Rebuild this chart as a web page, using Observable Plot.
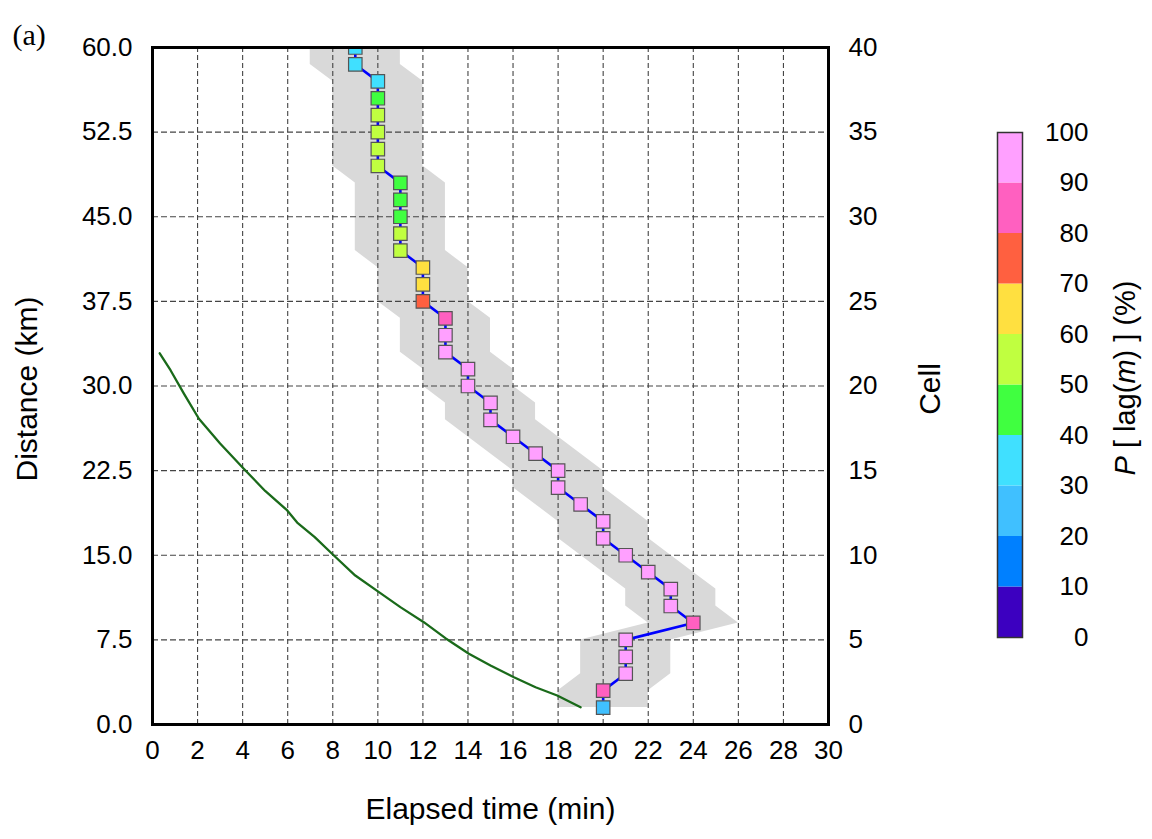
<!DOCTYPE html>
<html><head><meta charset="utf-8">
<script src="https://cdn.jsdelivr.net/npm/d3@7"></script>
<script src="https://cdn.jsdelivr.net/npm/@observablehq/plot@0.6"></script>
<style>
body{margin:0;background:#fff;}
#wrap{position:relative;width:1152px;height:839px;font-family:"Liberation Sans",Arial,sans-serif;}
#main{position:absolute;left:0;top:0;}
#cbar{position:absolute;left:960px;top:100px;}
</style></head><body><div id="wrap"><div id="main"></div><div id="cbar"></div></div>
<script>
// ---- data ----
const cells  = [1,2,3,4,5,6,7,8,9,10,11,12,13,14,15,16,17,18,19,20,21,22,23,24,25,26,27,28,29,30,31,32,33,34,35,36,37,38,39,40];
const times  = [20,20,21,21,21,24,23,23,22,21,20,20,19,18,18,17,16,15,15,14,14,13,13,13,12,12,12,11,11,11,11,11,10,10,10,10,10,10,9,9];
const probs  = [25,85,95,95,95,85,95,95,95,95,95,95,95,95,95,95,95,95,95,95,95,95,95,85,75,65,65,55,55,45,45,45,55,55,55,55,45,35,35,35];
const bandLo = [18,18,19,19,19,22,21,21,20,19,18,18,17,16,16,15,14,13,13,12,12,11,11,11,10,10,10,9,9,9,9,9,8,8,8,8,8,8,7,7];
const bandHi = [22,22,23,23,23,26,25,25,24,23,22,22,21,20,20,19,18,17,17,16,16,15,15,15,14,14,14,13,13,13,13,13,12,12,12,12,12,12,11,11];
const greenT  = [0.32,0.8,1.4,2.06,3.0,4.05,5.0,5.98,6.42,7.2,8.05,9.0,10.05,11.0,12.04,13.0,14.04,15.0,16.04,17.0,17.96,19.0];
const greenKm = [32.9,31.4,29.3,27.1,24.9,22.66,20.7,18.97,17.9,16.6,14.98,13.2,11.73,10.4,9.07,7.65,6.27,5.23,4.19,3.3,2.57,1.53];
const xTicks = [0,2,4,6,8,10,12,14,16,18,20,22,24,26,28,30];
const kmTicks = [0,7.5,15,22.5,30,37.5,45,52.5,60];
const cellTicks = [0,5,10,15,20,25,30,35,40];
const cbarEdges = [0,10,20,30,40,50,60,70,80,90,100];
const cbarTicks = [0,10,20,30,40,50,60,70,80,90,100];
const colorDomain = [10,20,30,40,50,60,70,80,90];
const colorRange = ["#3c00c0","#0080ff","#40c0ff","#40e0ff","#40ff40","#c0ff40","#ffe040","#ff6040","#ff60c0","#ffa0ff"];
const KM_PER_CELL = 1.5;

const data = cells.map((c,i)=>({cell:c, km:c*KM_PER_CELL, t:times[i], p:probs[i], lo:bandLo[i], hi:bandHi[i]}));
const green = greenT.map((t,i)=>({t, km:greenKm[i]}));
const font = "Liberation Sans, Arial, sans-serif";

const main = Plot.plot({
  width:1152, height:839,
  marginLeft:152, marginRight:324, marginTop:47, marginBottom:115,
  style:{fontFamily:font, fontSize:"26px", color:"#000", background:"#fff", overflow:"visible"},
  x:{domain:[0,30]},
  y:{domain:[0,60]},
  color:{type:"threshold", domain:colorDomain, range:colorRange},
  marks:[
    Plot.areaX(data,{y:"km", x1:"lo", x2:"hi", fill:"#d9d9d9", curve:"linear"}),
    Plot.gridX(xTicks,{stroke:"#444", strokeOpacity:1, strokeWidth:1.1, strokeDasharray:"5,3"}),
    Plot.gridY(kmTicks,{stroke:"#444", strokeOpacity:1, strokeWidth:1.1, strokeDasharray:"6,3"}),
    Plot.line(green,{x:"t", y:"km", stroke:"#1a6a1a", strokeWidth:2.3}),
    Plot.line(data,{x:"t", y:"km", stroke:"#0000ff", strokeWidth:2.6, clip:true}),
    Plot.dot(data,{x:"t", y:"km", symbol:"square", r:7.6, fill:"p", stroke:"#555", strokeWidth:1.2, clip:true}),
    Plot.frame({stroke:"#000", strokeWidth:3}),
    Plot.axisX(xTicks,{tickSize:0, tickPadding:16, label:null}),
    Plot.axisY(kmTicks,{tickSize:0, tickPadding:20, tickFormat:d=>d.toFixed(1), label:null}),
    Plot.axisY(cellTicks.map(c=>c*KM_PER_CELL),{anchor:"right", tickSize:0, tickPadding:20, tickFormat:d=>String(Math.round(d/KM_PER_CELL)), label:null}),
    Plot.text(["Elapsed time (min)"],{frameAnchor:"bottom", dy:94, fontSize:30}),
    Plot.text(["Distance (km)"],{frameAnchor:"left", dx:-125, dy:3, rotate:-90, textAnchor:"middle", fontSize:30}),
    Plot.text(["Cell"],{frameAnchor:"right", dx:102, dy:3, rotate:-90, textAnchor:"middle", fontSize:30}),
    Plot.text(["(a)"],{frameAnchor:"top-left", dx:-140, dy:-24, textAnchor:"start", fontFamily:"Liberation Serif, Times New Roman, serif", fontSize:30})
  ]
});
document.getElementById("main").appendChild(main);

const bins = cbarEdges.slice(0,-1).map((e,i)=>({lo:e, hi:cbarEdges[i+1], mid:(e+cbarEdges[i+1])/2}));
const cbar = Plot.plot({
  width:192, height:560,
  marginLeft:37, marginRight:130, marginTop:32, marginBottom:23,
  style:{fontFamily:font, fontSize:"26px", color:"#000", background:"transparent", overflow:"visible"},
  x:{domain:[0,1], axis:null},
  y:{domain:[0,100], axis:null},
  color:{type:"threshold", domain:colorDomain, range:colorRange},
  marks:[
    Plot.rect(bins,{x1:()=>0, x2:()=>1, y1:"lo", y2:"hi", fill:"mid"}),
    Plot.frame({stroke:"#333", strokeWidth:1.5}),
    Plot.text(cbarTicks,{y:d=>d, text:d=>String(d), frameAnchor:"right", dx:66, textAnchor:"end", fontSize:26})
  ]
});
document.getElementById("cbar").appendChild(cbar);

// colour-bar title with italic symbols
const lbl = d3.select(cbar).append("text")
  .attr("transform","translate(167,278) rotate(-90)")
  .attr("text-anchor","middle")
  .attr("dominant-baseline","middle")
  .attr("font-size",29)
  .attr("font-family",font)
  .attr("fill","#000");
lbl.append("tspan").attr("font-style","italic").text("P");
lbl.append("tspan").text(" [ lag(");
lbl.append("tspan").attr("font-style","italic").text("m");
lbl.append("tspan").text(") ] (%)");
</script></body></html>
